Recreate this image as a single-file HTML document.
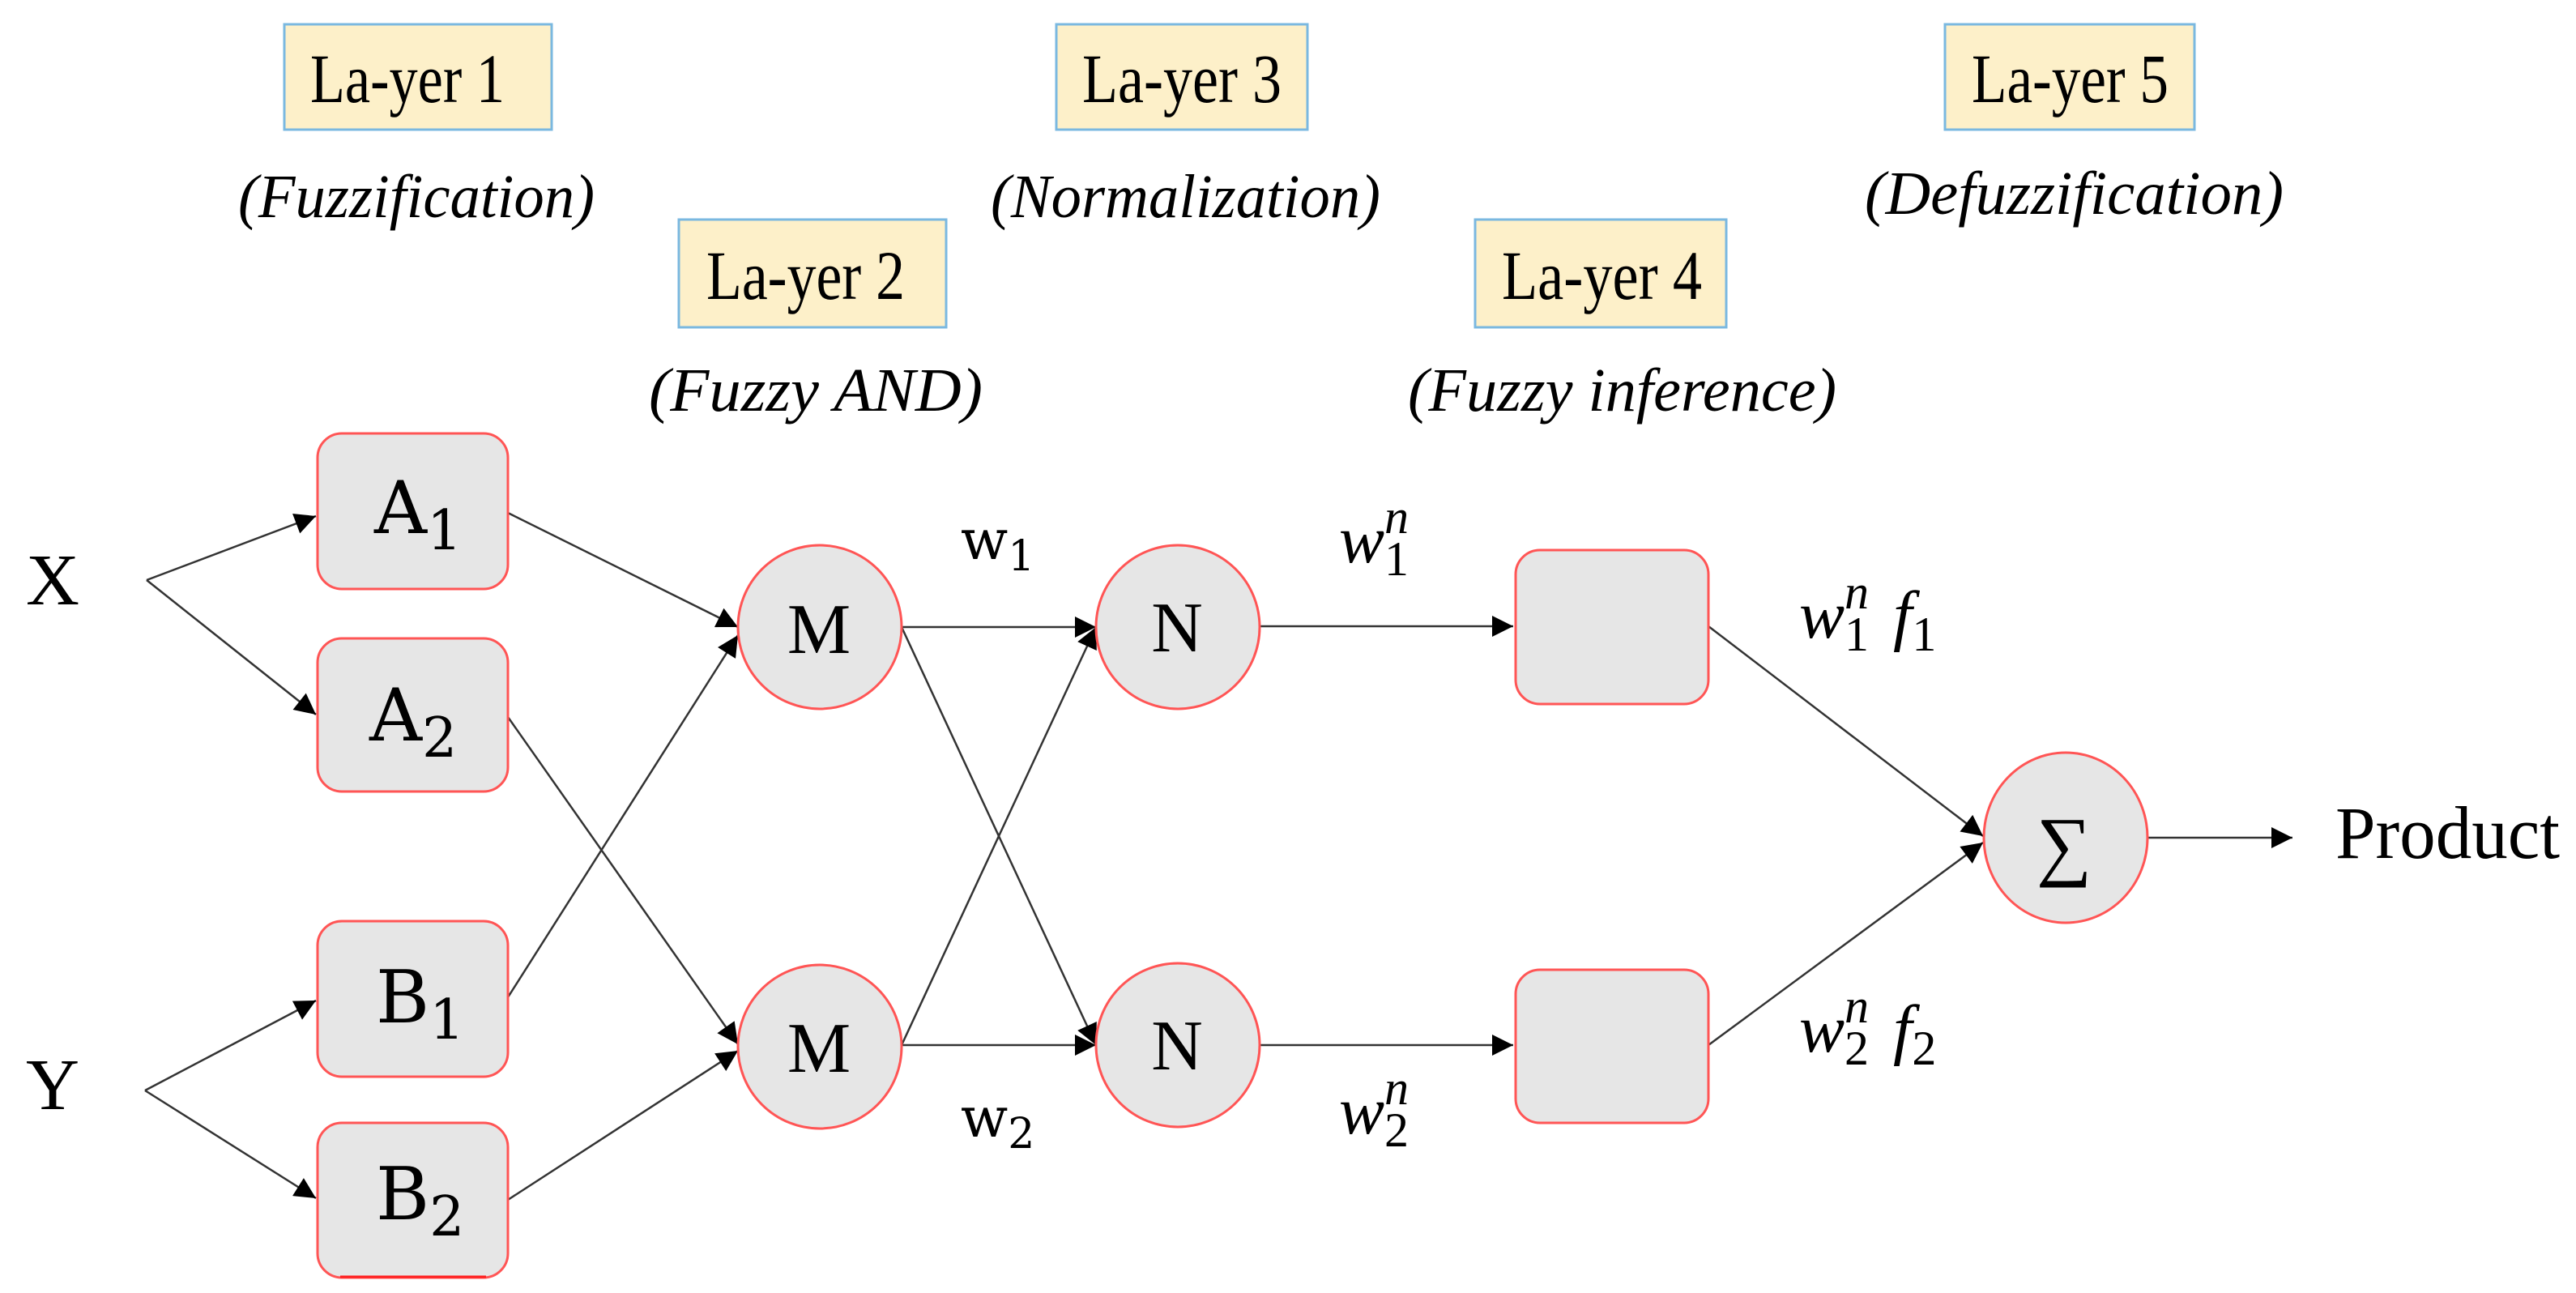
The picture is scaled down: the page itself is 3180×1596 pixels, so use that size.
<!DOCTYPE html>
<html><head><meta charset="utf-8"><style>html,body{margin:0;padding:0;background:#fff}svg{display:block}
.s{font-family:"Liberation Serif","DejaVu Serif",serif}
.d{font-family:"DejaVu Serif",serif}
</style></head>
<body>
<svg width="3180" height="1596" viewBox="0 0 3180 1596" xmlns="http://www.w3.org/2000/svg">
<defs>
<marker id="ar" viewBox="0 0 10 10" refX="10" refY="5" markerWidth="30" markerHeight="26" markerUnits="userSpaceOnUse" orient="auto"><path d="M0,0 L10,5 L0,10 z" fill="#000"/></marker>
</defs>
<g class="s" fill="#000">
<g fill="#fdf0c9" stroke="#7ab8e0" stroke-width="3">
<rect x="351" y="30" width="330" height="130"/>
<rect x="1304" y="30" width="310" height="130"/>
<rect x="2401" y="30" width="308" height="130"/>
<rect x="838" y="271" width="330" height="133"/>
<rect x="1821" y="271" width="310" height="133"/>
</g>
<g class="s" font-size="86">
<text x="383" y="126" textLength="240" lengthAdjust="spacingAndGlyphs">La-yer 1</text>
<text x="1336" y="126" textLength="246" lengthAdjust="spacingAndGlyphs">La-yer 3</text>
<text x="2434" y="126" textLength="243" lengthAdjust="spacingAndGlyphs">La-yer 5</text>
<text x="872" y="369" textLength="245" lengthAdjust="spacingAndGlyphs">La-yer 2</text>
<text x="1854" y="369" textLength="247" lengthAdjust="spacingAndGlyphs">La-yer 4</text>
</g>
<g class="s" font-size="76" font-style="italic">
<text x="294" y="268" textLength="440" lengthAdjust="spacingAndGlyphs">(Fuzzification)</text>
<text x="1223" y="268" textLength="481" lengthAdjust="spacingAndGlyphs">(Normalization)</text>
<text x="2302" y="264" textLength="517" lengthAdjust="spacingAndGlyphs">(Defuzzification)</text>
<text x="801" y="507" textLength="412" lengthAdjust="spacingAndGlyphs">(Fuzzy AND)</text>
<text x="1738" y="507" textLength="529" lengthAdjust="spacingAndGlyphs">(Fuzzy inference)</text>
</g>
<g stroke="#333" stroke-width="2.5" fill="none" marker-end="url(#ar)">
<line x1="181" y1="716" x2="390" y2="637"/>
<line x1="181" y1="716" x2="390" y2="882"/>
<line x1="179" y1="1346" x2="390" y2="1235"/>
<line x1="179" y1="1346" x2="390" y2="1479"/>
<line x1="627" y1="633" x2="911" y2="774"/>
<line x1="627" y1="1231" x2="911" y2="784"/>
<line x1="627" y1="885" x2="911" y2="1289"/>
<line x1="627" y1="1481" x2="911" y2="1297"/>
<line x1="1113" y1="774" x2="1353" y2="774"/>
<line x1="1113" y1="774" x2="1353" y2="1290"/>
<line x1="1113" y1="1290" x2="1353" y2="774"/>
<line x1="1113" y1="1290" x2="1353" y2="1290"/>
<line x1="1555" y1="773" x2="1868" y2="773"/>
<line x1="1555" y1="1290" x2="1868" y2="1290"/>
<line x1="2109" y1="773" x2="2448" y2="1032"/>
<line x1="2109" y1="1290" x2="2448" y2="1040"/>
<line x1="2652" y1="1034" x2="2830" y2="1034"/>
</g>
<g fill="#e6e6e6" stroke="#ff5555" stroke-width="3">
<rect x="392" y="535" width="235" height="192" rx="30"/>
<rect x="392" y="788" width="235" height="189" rx="30"/>
<rect x="392" y="1137" width="235" height="192" rx="30"/>
<rect x="392" y="1386" width="235" height="191" rx="30"/>
<circle cx="1012" cy="774" r="101"/>
<circle cx="1012" cy="1292" r="101"/>
<circle cx="1454" cy="774" r="101"/>
<circle cx="1454" cy="1290" r="101"/>
<rect x="1871" y="679" width="238" height="190" rx="30"/>
<rect x="1871" y="1197" width="238" height="189" rx="30"/>
<ellipse cx="2550" cy="1034" rx="101" ry="105"/>
</g>
<line x1="420" y1="1576" x2="600" y2="1576" stroke="#ff2020" stroke-width="3"/>
<g class="d" font-size="90">
<text x="462" y="658">A<tspan font-size="68" dy="20">1</tspan></text>
<text x="456" y="914">A<tspan font-size="68" dy="20">2</tspan></text>
<text x="464" y="1262">B<tspan font-size="68" dy="20">1</tspan></text>
<text x="464" y="1505">B<tspan font-size="68" dy="20">2</tspan></text>
</g>
<g class="s" font-size="88">
<text x="1011" y="806" text-anchor="middle">M</text>
<text x="1011" y="1323" text-anchor="middle">M</text>
<text x="1453" y="804" text-anchor="middle">N</text>
<text x="1453" y="1320" text-anchor="middle">N</text>
<text x="2548" y="1075" text-anchor="middle" font-size="96">∑</text>
<text x="32" y="746" font-size="90" textLength="66" lengthAdjust="spacingAndGlyphs">X</text>
<text x="32" y="1369" font-size="90" textLength="66" lengthAdjust="spacingAndGlyphs">Y</text>
<text x="2883" y="1059" font-size="92" textLength="277" lengthAdjust="spacingAndGlyphs">Product</text>
</g>
<g class="d" font-size="68">
<text x="1186" y="690">w<tspan font-size="52" dy="14">1</tspan></text>
<text x="1186" y="1403">w<tspan font-size="52" dy="14">2</tspan></text>
</g>
<g class="s" font-size="84" font-style="italic">
<text x="1653" y="694">w<tspan font-size="60" dy="16" font-style="normal">1</tspan><tspan font-size="60" dx="-30" dy="-52">n</tspan></text>
<text x="1653" y="1399">w<tspan font-size="60" dy="16" font-style="normal">2</tspan><tspan font-size="60" dx="-30" dy="-52">n</tspan></text>
<text x="2221" y="787">w<tspan font-size="60" dy="16" font-style="normal">1</tspan><tspan font-size="60" dx="-30" dy="-52">n</tspan><tspan dx="30" dy="36">f</tspan><tspan font-size="60" dy="16" font-style="normal">1</tspan></text>
<text x="2221" y="1298">w<tspan font-size="60" dy="16" font-style="normal">2</tspan><tspan font-size="60" dx="-30" dy="-52">n</tspan><tspan dx="30" dy="36">f</tspan><tspan font-size="60" dy="16" font-style="normal">2</tspan></text>
</g>
</g>
</svg>
</body></html>
